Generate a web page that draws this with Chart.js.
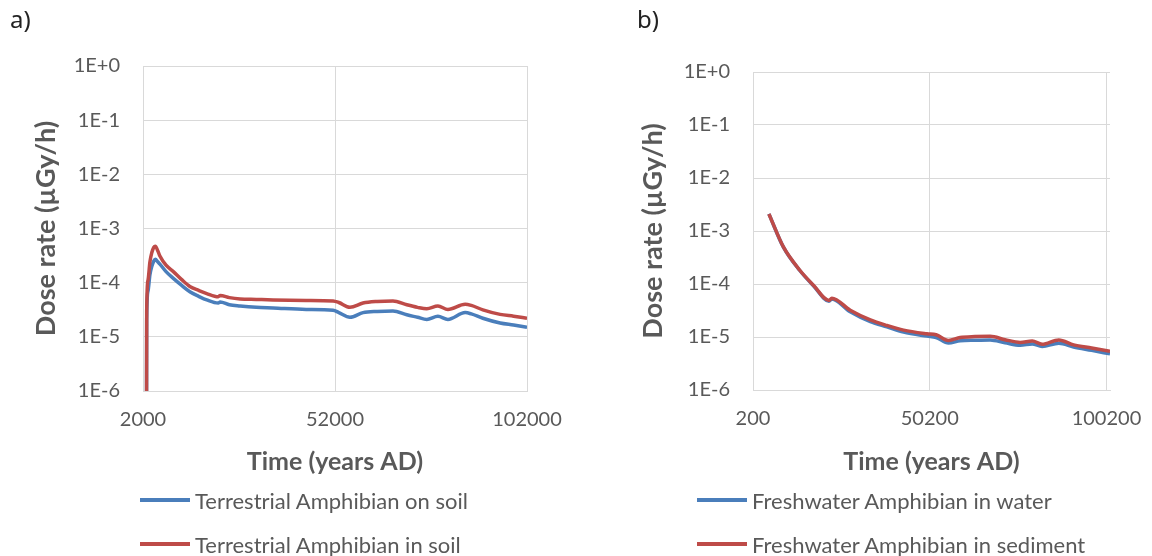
<!DOCTYPE html>
<html>
<head>
<meta charset="utf-8">
<script src="https://cdn.jsdelivr.net/npm/chart.js@4.4.1/dist/chart.umd.min.js"></script>
<style>
body { margin: 0; background: #fff; width: 1152px; height: 556px; position: relative; overflow: hidden; }
.panel { position: absolute; top: 0; width: 576px; height: 556px; }
.tag { position: absolute; top: 2px; font: 24px "Noto Sans"; color: #222; }
.legend { position: absolute; top: 478px; font: 22px Lato; color: #595959; }
.legend div { height: 44px; display: flex; align-items: center; white-space: nowrap; }
.legend span { display: inline-block; width: 50px; height: 4px; margin-right: 5px; }
</style>
</head>
<body>
<div class="panel" style="left:0"><canvas id="chartA" width="576" height="556"></canvas></div>
<div class="panel" style="left:576px"><canvas id="chartB" width="576" height="556"></canvas></div>
<div class="tag" style="left:10px">a)</div>
<div class="tag" style="left:637px">b)</div>
<div class="legend" id="legendA" style="left:140px"></div>
<div class="legend" id="legendB" style="left:697px"></div>
<script>
// panel a) terrestrial amphibian
let yearsA = [2000, 2900, 2960, 3300, 3800, 4300, 4800, 5200, 5900, 6400, 8000, 9900, 12000, 14200, 16500, 18600,
    21600, 22100, 24500, 27300, 31500, 35900, 44500, 51500, 53000, 55900, 59300, 63000, 67100, 70700, 73500,
    75900, 78800, 81400, 85900, 87500, 90500, 95000, 98500, 102000];
let onSoil = [1e-8, 1e-7, 2e-5, 7e-5, 1.4e-4, 2.0e-4, 2.5e-4, 2.7e-4, 2.4e-4, 2.2e-4, 1.6e-4, 1.2e-4, 9e-5, 6.8e-5, 5.6e-5, 4.8e-5,
    4.2e-5, 4.4e-5, 3.9e-5, 3.7e-5, 3.5e-5, 3.4e-5, 3.2e-5, 3.1e-5, 2.8e-5, 2.3e-5, 2.8e-5, 2.95e-5, 3.0e-5, 2.55e-5, 2.3e-5,
    2.1e-5, 2.4e-5, 2.1e-5, 2.8e-5, 2.65e-5, 2.2e-5, 1.8e-5, 1.65e-5, 1.5e-5];
let inSoil = [1e-8, 1e-7, 3e-5, 1.1e-4, 2.4e-4, 3.6e-4, 4.5e-4, 4.7e-4, 3.8e-4, 3.1e-4, 2.1e-4, 1.6e-4, 1.15e-4, 8.5e-5, 7.2e-5, 6.3e-5,
    5.5e-5, 5.8e-5, 5.3e-5, 5.0e-5, 4.9e-5, 4.8e-5, 4.7e-5, 4.6e-5, 4.3e-5, 3.5e-5, 4.2e-5, 4.5e-5, 4.6e-5, 3.9e-5, 3.5e-5,
    3.3e-5, 3.7e-5, 3.2e-5, 4.0e-5, 3.8e-5, 3.15e-5, 2.6e-5, 2.4e-5, 2.2e-5];

// panel b) freshwater amphibian
let yearsB = [4700, 8800, 13500, 17300, 21700, 22500, 27700, 33400, 38100, 42800, 49400, 52000, 55500, 58800,
    63000, 67300, 71500, 75800, 79200, 82000, 86700, 90900, 96000, 101200];
let inWater = [2.1e-3, 4.95e-4, 1.78e-4, 9.3e-5, 4.75e-5, 5.2e-5, 3.0e-5, 1.95e-5, 1.55e-5, 1.24e-5, 1.04e-5, 9.8e-6, 7.7e-6, 8.5e-6,
    8.7e-6, 8.8e-6, 7.8e-6, 7.0e-6, 7.4e-6, 6.6e-6, 7.6e-6, 6.5e-6, 5.6e-6, 4.8e-6];
let inSediment = [2.1e-3, 5.0e-4, 1.8e-4, 9.5e-5, 4.9e-5, 5.4e-5, 3.2e-5, 2.1e-5, 1.65e-5, 1.35e-5, 1.15e-5, 1.1e-5, 8.6e-6, 9.8e-6,
    1.02e-5, 1.03e-5, 8.9e-6, 7.9e-6, 8.4e-6, 7.3e-6, 8.8e-6, 7.1e-6, 6.2e-6, 5.4e-6];

let yTicks = [1e-6, 1e-5, 1e-4, 1e-3, 1e-2, 1e-1, 1];
let yTickLabels = ['1E-6', '1E-5', '1E-4', '1E-3', '1E-2', '1E-1', '1E+0'];
let xTicksA = [2000, 52000, 102000];
let xTicksB = [200, 50200, 100200];

let blue = '#4a7ebb';
let red = '#be4b48';
let gridColor = '#d9d9d9';
let textColor = '#595959';

let toPoints = function (xs, ys) {
    return xs.map(function (x, i) { return { x: x, y: ys[i] }; });
};

let makeChart = function (id, names, xs, series, xMin, xMax, xTicks, box) {
    let ctx = document.getElementById(id).getContext('2d');
    return new Chart(ctx, {
        type: 'line',
        data: {
            datasets: [
                // red series is drawn over the blue one
                { label: names[0], data: toPoints(xs, series[0]), borderColor: blue, backgroundColor: blue, order: 1 },
                { label: names[1], data: toPoints(xs, series[1]), borderColor: red, backgroundColor: red, order: 0 }
            ]
        },
        options: {
            responsive: false,
            animation: false,
            layout: { padding: { top: box.top, right: box.right, bottom: 75, left: 0 } },
            elements: {
                point: { radius: 0 },
                line: { borderWidth: 3.5, cubicInterpolationMode: 'monotone' }
            },
            plugins: { legend: { display: false }, tooltip: { enabled: false } },
            scales: {
                x: {
                    type: 'linear',
                    min: xMin,
                    max: xMax,
                    afterBuildTicks: function (s) { s.ticks = xTicks.map(function (v) { return { value: v }; }); },
                    afterFit: function (s) {
                        s.height = box.xHeight;
                        s.paddingLeft = 0;
                        s.paddingRight = 0;
                    },
                    grid: { color: gridColor, drawTicks: false },
                    border: { color: gridColor },
                    ticks: {
                        color: textColor, font: { family: 'Lato', size: 20 }, padding: 17, maxRotation: 0,
                        callback: function (v) { return String(v); }
                    },
                    title: {
                        display: true, text: 'Time (years AD)', color: textColor,
                        font: { family: 'Lato', size: 25, weight: 'bold' }, padding: { top: 0, bottom: 4 }
                    }
                },
                y: {
                    type: 'logarithmic',
                    min: 1e-6,
                    max: 1,
                    afterBuildTicks: function (s) { s.ticks = yTicks.map(function (v) { return { value: v }; }); },
                    afterFit: function (s) { s.width = box.yWidth; },
                    grid: { color: gridColor, drawTicks: false },
                    border: { color: gridColor },
                    ticks: {
                        color: textColor, font: { family: 'Lato', size: 20 }, padding: 23,
                        callback: function (v, i) { return yTickLabels[i]; }
                    },
                    title: {
                        display: true, text: 'Dose rate (µGy/h)', color: textColor,
                        font: { family: 'Lato', size: 27, weight: 'bold' }, padding: { top: box.titleLeft, bottom: 0 }
                    }
                }
            }
        }
    });
};

let fillLegend = function (id, chart) {
    let el = document.getElementById(id);
    chart.data.datasets.forEach(function (ds) {
        let row = document.createElement('div');
        let sw = document.createElement('span');
        sw.style.background = ds.borderColor;
        row.appendChild(sw);
        row.appendChild(document.createTextNode(ds.label));
        el.appendChild(row);
    });
};

window.onload = function () {
    let chartA = makeChart('chartA', ['Terrestrial Amphibian on soil', 'Terrestrial Amphibian in soil'],
        yearsA, [onSoil, inSoil], 2000, 102000, xTicksA,
        { top: 66, right: 49, xHeight: 90, yWidth: 143, titleLeft: 30 });
    let chartB = makeChart('chartB', ['Freshwater Amphibian in water', 'Freshwater Amphibian in sediment'],
        yearsB, [inWater, inSediment], 200, 101200, xTicksB,
        { top: 72, right: 42, xHeight: 91, yWidth: 177, titleLeft: 61 });
    fillLegend('legendA', chartA);
    fillLegend('legendB', chartB);
};
</script>
</body>
</html>
